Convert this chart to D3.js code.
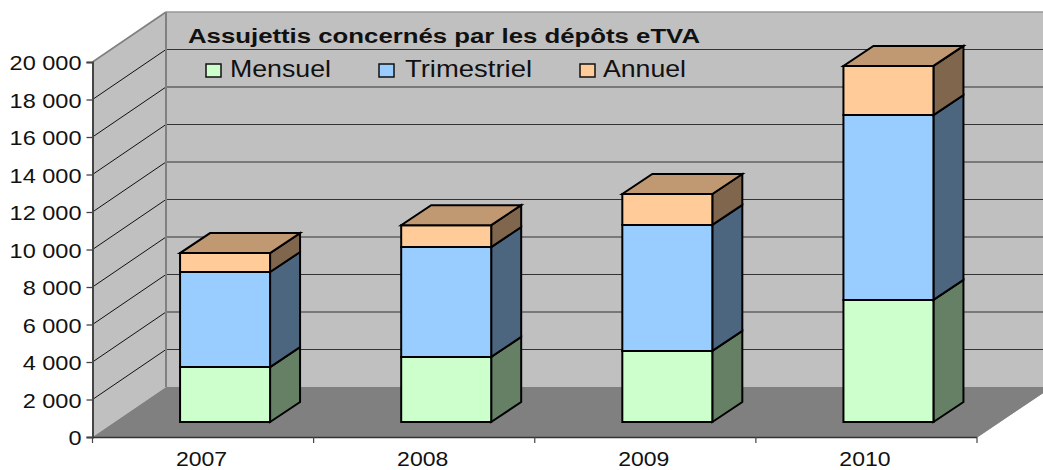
<!DOCTYPE html>
<html><head><meta charset="utf-8">
<script src="https://cdn.jsdelivr.net/npm/d3@7/dist/d3.min.js"></script>
<style>html,body{margin:0;padding:0;background:#fff;overflow:hidden}svg{display:block}text{font-family:"Liberation Sans",Arial,sans-serif;fill:#111}</style>
</head><body><div id="c"></div>
<script>
const categories = ["2007","2008","2009","2010"];
const seriesNames = ["Mensuel","Trimestriel","Annuel"];
const mensuel = [2930,3470,3790,6510];
const trimestriel = [5070,5860,6720,9860];
const annuel = [1010,1170,1650,2620];
const yTicks = [0,2000,4000,6000,8000,10000,12000,14000,16000,18000,20000];
const faceColors = ["#CCFFCC","#99CCFF","#FFCC99"];
const sideColors = ["#668066","#4D6680","#80664D"];
const topColor = "#C09973";
const title = "Assujettis concernés par les dépôts eTVA";

const W=1043,H=470;
const x = d3.scaleBand().domain(categories).range([92.5,977]);
const y = d3.scaleLinear().domain([0,20000]).range([437,62]);
const dep = {x:73.5,y:-50};
const barOff = {x:22,y:-15};
const bw = 90, bd = {x:30,y:-20};
const svg = d3.select("#c").append("svg").attr("width",W).attr("height",H);
const poly = (pts,fill,stroke,sw)=>svg.append("polygon").attr("points",pts.map(p=>p.join(",")).join(" "))
  .attr("fill",fill).attr("stroke",stroke||"none").attr("stroke-width",sw||0).attr("stroke-linejoin","miter");
const xL=x.range()[0], xR=x.range()[1], yB=y(0), yT=y(20000);

poly([[xL+dep.x,yT+dep.y],[W+5,yT+dep.y],[W+5,yB+dep.y],[xL+dep.x,yB+dep.y]],"#C0C0C0");
poly([[xL,yT],[xL+dep.x,yT+dep.y],[xL+dep.x,yB+dep.y],[xL,yB]],"#C0C0C0");
poly([[xL,yB],[xL+dep.x,yB+dep.y],[W+5,yB+dep.y],[W+5,yB+dep.y+3],[xR,yB]],"#808080");

yTicks.forEach(t=>{
  if(t===0) return;
  svg.append("line").attr("x1",xL).attr("y1",y(t)).attr("x2",xL+dep.x).attr("y2",y(t)+dep.y)
    .attr("stroke",t===20000?"#808080":"#111").attr("stroke-width",t===20000?1.6:1);
  svg.append("line").attr("x1",xL+dep.x).attr("y1",y(t)+dep.y).attr("x2",W).attr("y2",y(t)+dep.y)
    .attr("stroke",t===20000?"#999":"#333").attr("stroke-width",t===20000?1.5:1.2);
});
svg.append("line").attr("x1",xL+dep.x).attr("y1",yT+dep.y).attr("x2",xL+dep.x).attr("y2",yB+dep.y).attr("stroke","#808080").attr("stroke-width",2);

const yAxis = d3.axisLeft(y).tickValues(yTicks).tickSize(6).tickFormat(d=>d3.format(",")(d).replace(",", " "));
const gy = svg.append("g").attr("transform",`translate(${xL},0)`).call(yAxis);
gy.selectAll("path,line").attr("stroke","#444").attr("stroke-width",1.3);
gy.select("path").attr("stroke-width",2);
gy.selectAll("text").attr("x",-11).attr("dy","0.36em").style("font-size","21px").style("font-family",'"Liberation Sans"').each(function(){
  d3.select(this).attr("textLength",this.getComputedTextLength()*1.12).attr("lengthAdjust","spacingAndGlyphs");
});
const gx = svg.append("g").attr("transform",`translate(0,${yB})`).call(d3.axisBottom(x).tickSize(0).tickPadding(0));
gx.select("path").attr("stroke","#333").attr("stroke-width",1.3).attr("d",`M${xL},0.5H${xR}`);
gx.selectAll("text").attr("x",-1.5).attr("y",28.5).attr("dy",0).attr("text-anchor","middle").style("font-size","20px").each(function(){
  d3.select(this).attr("textLength",this.getComputedTextLength()*1.15).attr("lengthAdjust","spacingAndGlyphs");
});
[...categories.map(c=>x(c)),xR].forEach(v=>svg.append("line").attr("x1",v).attr("x2",v).attr("y1",yB).attr("y2",yB+6).attr("stroke","#444").attr("stroke-width",1.2));
svg.append("line").attr("x1",xR).attr("y1",yB).attr("x2",W).attr("y2",yB-(W-xR)*50/73.5).attr("stroke","#808080").attr("stroke-width",1.3);

const stack = d3.stack().keys([0,1,2]).value((d,k)=>d[k])(categories.map((c,i)=>[mensuel[i],trimestriel[i],annuel[i]]));
categories.forEach((c,i)=>{
  const X0 = x(c)+x.bandwidth()/2+barOff.x-bw/2, X1=X0+bw;
  stack.forEach((s,k)=>{
    const Yb=y(s[i][0])+barOff.y, Yt=y(s[i][1])+barOff.y;
    poly([[X1,Yb],[X1+bd.x,Yb+bd.y],[X1+bd.x,Yt+bd.y],[X1,Yt]],sideColors[k],"#000",2);
    poly([[X0,Yb],[X1,Yb],[X1,Yt],[X0,Yt]],faceColors[k],"#000",2);
    if(k===2) poly([[X0,Yt],[X1,Yt],[X1+bd.x,Yt+bd.y],[X0+bd.x,Yt+bd.y]],topColor,"#000",2);
  });
});

svg.append("text").attr("x",188).attr("y",42.5).style("font-size","20px").style("font-weight","bold").text(title)
  .attr("textLength",512).attr("lengthAdjust","spacingAndGlyphs");
const lx=[205,378,579], tx=[230,405,603], ltw=[101,127,83];
seriesNames.forEach((n,i)=>{
  svg.append("rect").attr("x",lx[i]+1).attr("y",64).attr("width",15).attr("height",13).attr("fill",faceColors[i]).attr("stroke","#111").attr("stroke-width",1.5);
  svg.append("text").attr("x",tx[i]).attr("y",77).style("font-size","24px").text(n).attr("textLength",ltw[i]).attr("lengthAdjust","spacingAndGlyphs");
});
</script></body></html>
